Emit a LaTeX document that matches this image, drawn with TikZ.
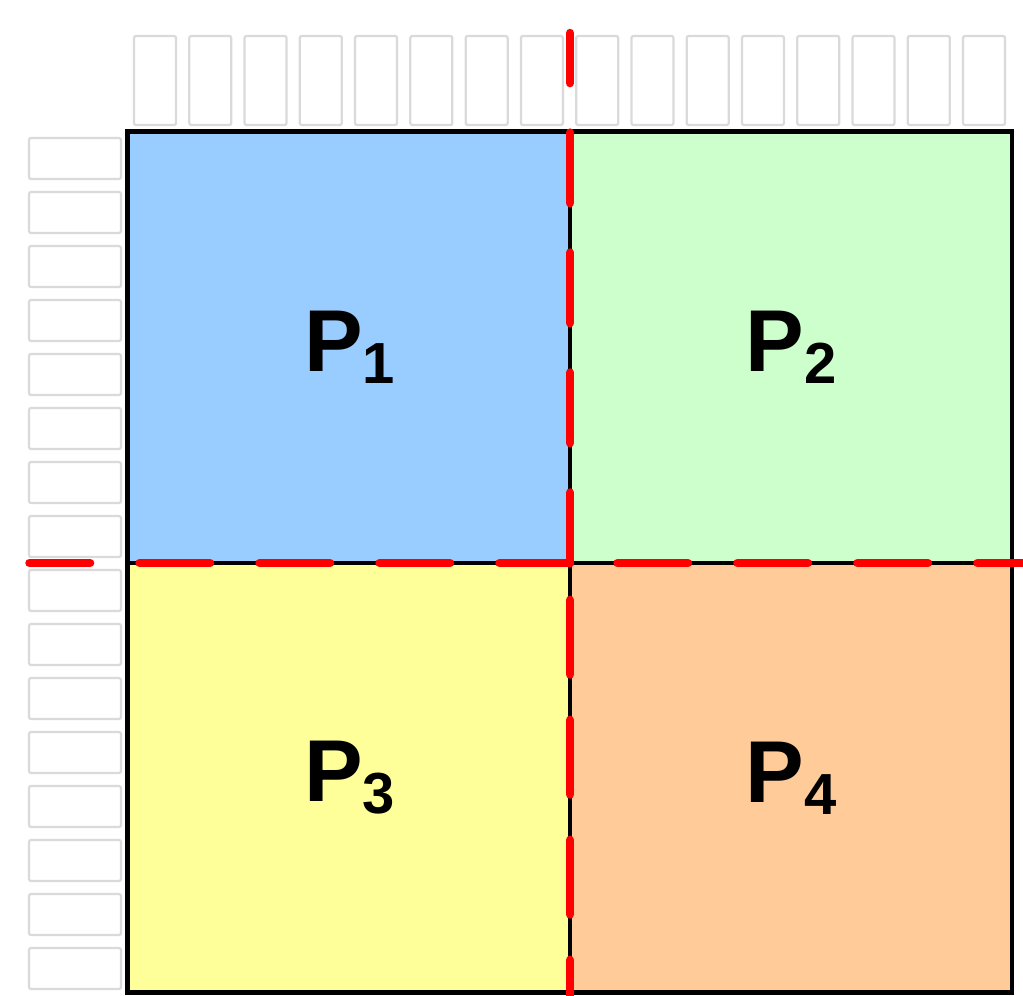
\documentclass[tikz,border=0pt]{standalone}
\usepackage{fontspec}
\setmainfont{Liberation Sans}
\usetikzlibrary{calc}
\definecolor{pblue}{RGB}{153,204,255}
\definecolor{pgreen}{RGB}{204,255,204}
\definecolor{pyellow}{RGB}{255,255,153}
\definecolor{porange}{RGB}{255,204,153}
\definecolor{cellbdr}{RGB}{218,218,218}
\definecolor{cutred}{RGB}{255,0,0}
\newcommand{\psub}[1]{\raisebox{-0.24cm}{\fontsize{33}{33}\selectfont #1}}
\tikzset{
  cellbox/.style={draw=cellbdr,line width=0.045cm,rounded corners=0.04cm},
  quad/.style={draw=black,line width=0.09cm},
  cutln/.style={draw=cutred,line width=0.17cm,line cap=round,
    dash pattern=on 1.41cm off 0.99cm},
  plbl/.style={font=\fontsize{50}{50}\selectfont\bfseries,inner sep=0pt},
}
\begin{document}
\begin{tikzpicture}[x=0.02cm,y=-0.02cm]
  \clip (0,0) rectangle (1023,995);
  % row and column cells
  \foreach \i in {0,...,15}
    \draw[cellbox] ({134+55.27*\i},36) rectangle ++(42,89);
  \foreach \j in {0,...,15}
    \draw[cellbox] (29,{138+54*\j}) rectangle ++(92,41);

  % the four parts
  \coordinate (tl) at (127.5,131.5);
  \coordinate (br) at (1012,992.5);
  \coordinate (c)  at (570,563);
  \fill[pblue]   (tl) rectangle (c);
  \fill[pgreen]  (c |- tl) rectangle (br |- c);
  \fill[pyellow] (tl |- c) rectangle (c |- br);
  \fill[porange] (c) rectangle (br);
  \draw[quad] (tl) rectangle (br);
  \draw[quad] (c |- tl) -- (c |- br);
  \draw[quad] (tl |- c) -- (br |- c);

  \node[plbl] (p1) at (349.5,347.5) {P\psub{1}};
  \node[plbl] (p2) at (791,347.5)   {P\psub{2}};
  \node[plbl] (p3) at (349.5,778)   {P\psub{3}};
  \node[plbl] (p4) at (791,778)     {P\psub{4}};

  % cut lines
  \draw[cutln] (c) -- (570,33);
  \draw[cutln] (c) -- (29.5,563);
  \draw[cutln,dash phase=1.45cm] (c) -- (1030,563);
  \draw[cutln,dash pattern=on 1.49cm off 0.91cm,dash phase=1.66cm] (c) -- (570,1000);
\end{tikzpicture}
\end{document}
